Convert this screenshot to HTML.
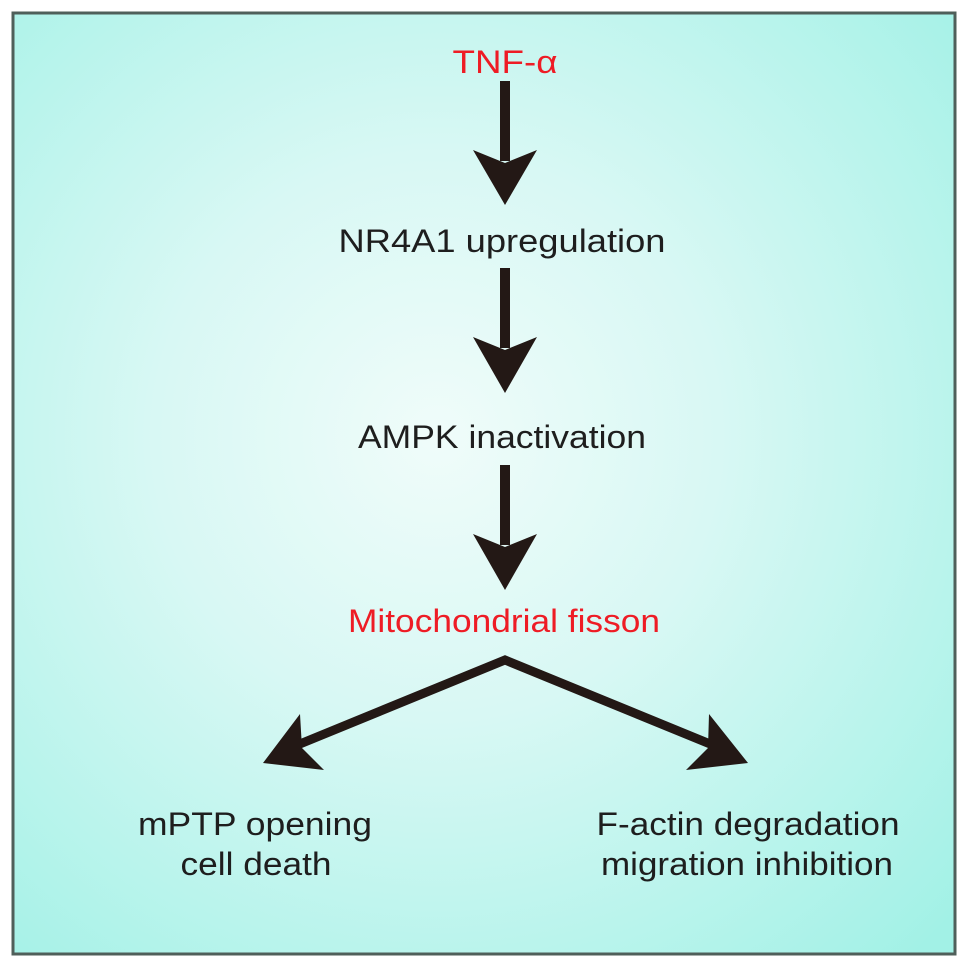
<!DOCTYPE html>
<html><head><meta charset="utf-8"><style>
html,body{margin:0;padding:0;width:969px;height:969px;background:#fff;overflow:hidden}
</style></head><body>
<svg width="969" height="969" viewBox="0 0 969 969" xmlns="http://www.w3.org/2000/svg">
<defs>
<radialGradient id="g" cx="0.45" cy="0.45" r="0.75">
<stop offset="0" stop-color="#f0fcfa"/>
<stop offset="0.4" stop-color="#d8f8f4"/>
<stop offset="1" stop-color="#a2f1e6"/>
</radialGradient>
</defs>
<rect x="13" y="13" width="942" height="941" fill="url(#g)" stroke="#4f5f5a" stroke-width="3"/>
<g fill="#231815" stroke="none">
<rect x="500" y="81" width="10" height="80"/>
<polygon points="473,150 505,163 537,150 505,205"/>
<rect x="500" y="268" width="10" height="80"/>
<polygon points="473,337 505,350 537,337 505,393"/>
<rect x="500" y="465" width="10" height="80"/>
<polygon points="473,534 505,547 537,534 505,590"/>
</g>
<polyline points="295,746 505,660 715,746" fill="none" stroke="#231815" stroke-width="9" stroke-linejoin="miter"/>
<polygon points="263,763 300,714 302,748 324,770" fill="#231815"/>
<polygon points="748,763 709,714 708,748 686,770" fill="#231815"/>
<g font-family="Liberation Sans, Arial, sans-serif" font-size="32" text-anchor="middle" fill="#1e1e1e">
<text x="505" y="73" fill="#ee1c25" textLength="105" lengthAdjust="spacingAndGlyphs">TNF-α</text>
<text x="502" y="252" textLength="327" lengthAdjust="spacingAndGlyphs">NR4A1 upregulation</text>
<text x="502" y="448" textLength="288" lengthAdjust="spacingAndGlyphs">AMPK inactivation</text>
<text x="504" y="632" fill="#ee1c25" textLength="312" lengthAdjust="spacingAndGlyphs">Mitochondrial fisson</text>
<text x="255" y="835" textLength="234" lengthAdjust="spacingAndGlyphs">mPTP opening</text>
<text x="256" y="875" textLength="151" lengthAdjust="spacingAndGlyphs">cell death</text>
<text x="748" y="835" textLength="303" lengthAdjust="spacingAndGlyphs">F-actin degradation</text>
<text x="747" y="875" textLength="292" lengthAdjust="spacingAndGlyphs">migration inhibition</text>
</g>
</svg>
</body></html>
